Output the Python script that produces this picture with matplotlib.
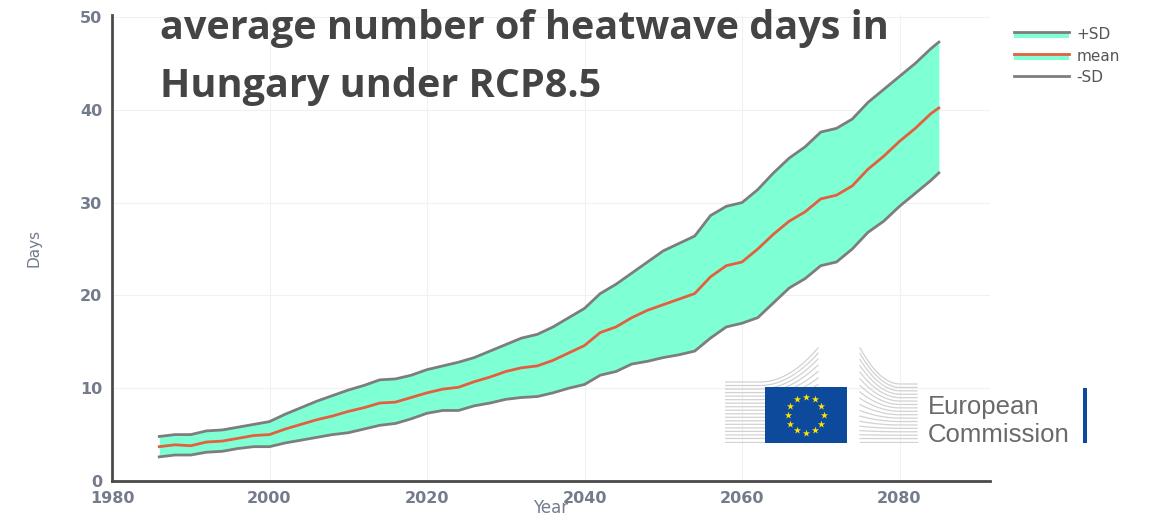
import matplotlib
matplotlib.use("Agg")
import matplotlib.pyplot as plt
import numpy as np
from matplotlib.legend_handler import HandlerBase
from matplotlib.lines import Line2D
from matplotlib.patches import Rectangle

# heatwave days per year, Hungary, RCP8.5 ensemble
years = [1986, 1988, 1990, 1992, 1994, 1996, 1998, 2000, 2002, 2004, 2006, 2008,
         2010, 2012, 2014, 2016, 2018, 2020, 2022, 2024, 2026, 2028, 2030, 2032,
         2034, 2036, 2038, 2040, 2042, 2044, 2046, 2048, 2050, 2052, 2054, 2056,
         2058, 2060, 2062, 2064, 2066, 2068, 2070, 2072, 2074, 2076, 2078, 2080,
         2082, 2084, 2085]
mean_days = [3.7, 3.9, 3.8, 4.2, 4.3, 4.6, 4.9, 5.0, 5.6, 6.1, 6.6, 7.0,
             7.5, 7.9, 8.4, 8.5, 9.0, 9.5, 9.9, 10.1, 10.7, 11.2, 11.8, 12.2,
             12.4, 13.0, 13.8, 14.6, 16.0, 16.6, 17.6, 18.4, 19.0, 19.6, 20.2, 22.0,
             23.2, 23.6, 25.0, 26.6, 28.0, 29.0, 30.4, 30.8, 31.8, 33.6, 35.0, 36.6,
             38.0, 39.6, 40.2]
plus_sd = [4.8, 5.0, 5.0, 5.4, 5.5, 5.8, 6.1, 6.4, 7.2, 7.9, 8.6, 9.2,
           9.8, 10.3, 10.9, 11.0, 11.4, 12.0, 12.4, 12.8, 13.3, 14.0, 14.7, 15.4,
           15.8, 16.6, 17.6, 18.6, 20.2, 21.2, 22.4, 23.6, 24.8, 25.6, 26.4, 28.6,
           29.6, 30.0, 31.4, 33.2, 34.8, 36.0, 37.6, 38.0, 39.0, 40.8, 42.2, 43.6,
           45.0, 46.6, 47.3]
minus_sd = [2.6, 2.8, 2.8, 3.1, 3.2, 3.5, 3.7, 3.7, 4.1, 4.4, 4.7, 5.0,
            5.2, 5.6, 6.0, 6.2, 6.7, 7.3, 7.6, 7.6, 8.1, 8.4, 8.8, 9.0,
            9.1, 9.5, 10.0, 10.4, 11.4, 11.8, 12.6, 12.9, 13.3, 13.6, 14.0, 15.4,
            16.6, 17.0, 17.6, 19.2, 20.8, 21.8, 23.2, 23.6, 25.0, 26.8, 28.0, 29.6,
            31.0, 32.4, 33.2]

x_ticks = [1980, 2000, 2020, 2040, 2060, 2080]
y_ticks = [0, 10, 20, 30, 40, 50]

FILL = "#7fffd4"
SD_LINE = "#7d7d7d"
MEAN_LINE = "#e2603f"
TICK_COL = "#737b8c"


class BandHandler(HandlerBase):
    """Legend key: a line with the band colour underneath."""

    def __init__(self, line_color, filled):
        super().__init__()
        self.line_color = line_color
        self.filled = filled

    def create_artists(self, legend, orig_handle, xdescent, ydescent,
                       width, height, fontsize, trans):
        arts = []
        y_line = -ydescent + height * 0.62
        if self.filled:
            arts.append(Rectangle((-xdescent, y_line - height * 0.55), width,
                                  height * 0.55, facecolor=FILL,
                                  edgecolor="none", transform=trans))
        arts.append(Line2D([-xdescent, -xdescent + width], [y_line, y_line],
                           color=self.line_color, lw=2, transform=trans))
        return arts


fig = plt.figure(figsize=(11.53, 5.18), dpi=100)
W, H = 1153, 518
ax = fig.add_axes([112 / W, 1 - 481 / H, (990 - 112) / W, (481 - 15) / H])

ax.fill_between(years, minus_sd, plus_sd, color=FILL, lw=0, zorder=1)
h_plus, = ax.plot(years, plus_sd, color=SD_LINE, lw=2, zorder=2)
h_mean, = ax.plot(years, mean_days, color=MEAN_LINE, lw=2, zorder=3)
h_minus, = ax.plot(years, minus_sd, color=SD_LINE, lw=2, zorder=2)

ax.set_xlim(1980, 1980 + (990 - 112) / 7.875)
ax.set_ylim(0, 466 / 9.28)
ax.set_xticks(x_ticks)
ax.set_yticks(y_ticks)
ax.grid(color="#f1f1f1", lw=0.8)
ax.set_axisbelow(True)
for side in ("top", "right"):
    ax.spines[side].set_visible(False)
for side in ("left", "bottom"):
    ax.spines[side].set_color("#4a4a4a")
    ax.spines[side].set_linewidth(2)
ax.tick_params(length=0, labelsize=11.5, labelcolor=TICK_COL)
ax.tick_params(axis="y", pad=7)
ax.tick_params(axis="x", pad=7)
for lbl in ax.get_xticklabels() + ax.get_yticklabels():
    lbl.set_fontweight("bold")
ax.set_xlabel("Year", fontsize=12, color=TICK_COL, labelpad=-5)
ax.set_ylabel("Days", fontsize=11, color=TICK_COL, labelpad=28)

leg = fig.legend([h_plus, h_mean, h_minus], ["+SD", "mean", "-SD"],
                 handler_map={h_plus: BandHandler(SD_LINE, True),
                              h_mean: BandHandler(MEAN_LINE, True),
                              h_minus: BandHandler(SD_LINE, False)},
                 loc="upper left", bbox_to_anchor=(1000 / W, 1 - 13 / H),
                 frameon=False, fontsize=11, handlelength=3.6,
                 handletextpad=0.5, labelspacing=0.45)
for t in leg.get_texts():
    t.set_color("#555555")

title_kw = dict(fontsize=28.5, fontweight="bold", family="Open Sans",
                color="#444444", va="baseline", ha="left")
fig.text(160 / W, 1 - 39 / H, "average number of heatwave days in", **title_kw)
fig.text(160 / W, 1 - 97 / H, "Hungary under RCP8.5", **title_kw)

# European Commission logo, drawn in its own pixel-unit axes
lg = fig.add_axes([725 / W, 1 - 443 / H, (1090 - 725) / W, (443 - 346) / H])
lg.set_xlim(0, 365)
lg.set_ylim(0, 97)
lg.axis("off")
n_lines = 18
for i in range(n_lines):
    f = i / (n_lines - 1)
    y0 = 1 + 60 * f
    xs = np.linspace(0, 93, 60)
    rise = (95 - y0) * f ** 2.5
    ys = y0 + rise * np.clip((xs - 35) / 58, 0, None) ** 2
    lg.plot(xs, ys, color="#d2d2d2", lw=0.9)
    xs2 = np.linspace(135, 192, 60)
    y1 = 1 + 58 * f
    rise2 = (95 - y1) * f ** 2.5
    ys2 = y1 + rise2 * np.clip((175 - xs2) / 40, 0, None) ** 2
    lg.plot(xs2, ys2, color="#d2d2d2", lw=0.9)
lg.add_patch(Rectangle((40, 0), 82, 56, facecolor="#0e4a9b", edgecolor="none",
                       zorder=3))
ang = np.linspace(0, 2 * np.pi, 13)[:-1]
lg.scatter(80.7 + 18 * np.cos(ang), 28.5 + 18 * np.sin(ang), marker="*",
           s=30, color="#ffe500", lw=0, zorder=4)
lg.add_patch(Rectangle((358, 0), 4, 55, facecolor="#0e4a9b", edgecolor="none"))
for txt, yb in (("European", 29), ("Commission", 1)):
    lg.text(203, yb, txt, fontsize=18.5, color="#6a6a6a", va="baseline",
            family="Liberation Sans")

fig.savefig("out.png", dpi=100)
